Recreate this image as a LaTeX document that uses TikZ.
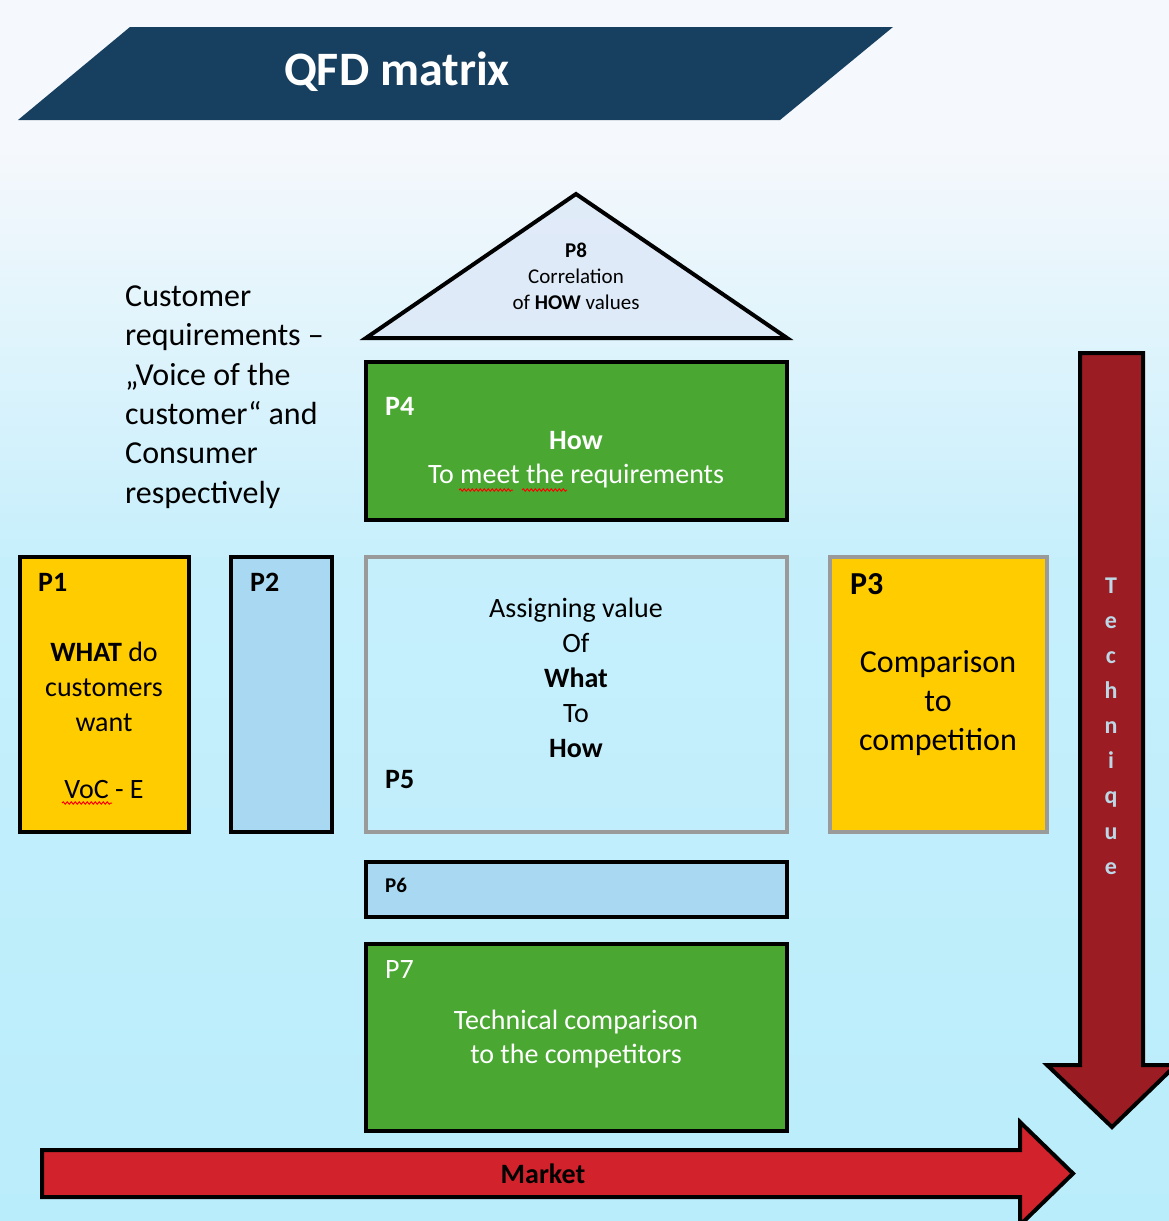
\documentclass[tikz,border=0pt]{standalone}
\usepackage{fontspec}
\setmainfont{Carlito}
\usetikzlibrary{decorations.pathmorphing}
\definecolor{navy}{HTML}{173F5F}
\definecolor{qgreen}{HTML}{4AA832}
\definecolor{qyellow}{HTML}{FFCC00}
\definecolor{qblue}{HTML}{A8D8F2}
\definecolor{qdarkred}{HTML}{9B1C23}
\definecolor{qred}{HTML}{D2232C}
\definecolor{qgray}{HTML}{9A9A9A}
\definecolor{qletter}{HTML}{BCD8E6}
\definecolor{bgtop}{HTML}{F5F8FC}
\definecolor{bgmid}{HTML}{C6EFFC}
\definecolor{bgbot}{HTML}{BAEDFB}
\definecolor{trifill}{HTML}{DDE8F7}
\newcommand\myfs[2]{\fontsize{#1}{#2}\selectfont}
\begin{document}
\begin{tikzpicture}[x=1pt,y=-1pt,
  box/.style={rectangle,draw=black,line width=4pt,inner sep=0pt},
  graybox/.style={box,draw=qgray},
  lbl/.style={anchor=west,inner sep=0pt,font=\myfs{28}{34}\bfseries},
  body/.style={align=center,inner sep=0pt,font=\myfs{28}{35}},
  squig/.style={draw=red,line width=1pt,decorate,decoration={snake,amplitude=1.2pt,segment length=4pt}},
  bigarrow/.style={draw=black,line width=4pt,line join=miter}]
\useasboundingbox (0,0) rectangle (1169,1221);
% background
\fill[bgtop] (0,0) rectangle (1169,151);
\shade[top color=bgtop,bottom color=bgmid] (0,150) rectangle (1169,561);
\shade[top color=bgmid,bottom color=bgbot] (0,560) rectangle (1169,1221);

% title banner
\fill[navy] (18,120) -- (130,27) -- (893,27) -- (780,120) -- cycle;
\node[text=white,font=\myfs{48}{56}\bfseries,inner sep=0pt] (title) at (397,72) {QFD matrix};

% P8 triangle
\draw[line width=4pt,line join=miter,fill=trifill,fill opacity=0.8] (366,338) -- (576,194) -- (787,338) -- cycle;
\node[align=center,inner sep=0pt,font=\myfs{21}{26}] (p8t) at (576,276)
  {\textbf{P8}\\Correlation\\of \textbf{HOW} values};

% left text
\node[anchor=west,align=left,inner sep=0pt,font=\myfs{32}{39.4}] (cust) at (125,397)
  {Customer\\requirements –\\„Voice of the\\customer“ and\\Consumer\\respectively};

% P4
\node[box,fill=qgreen,minimum width=421,minimum height=158] (p4) at (576.5,441) {};
\node[lbl,text=white] (p4l) at (385,406) {P4};
\node[body,text=white,font=\myfs{28}{34}] (p4t) at (576,460) {\textbf{How}\\To meet the requirements};
\draw[squig] (459,490) -- (513,490);
\draw[squig] (522,490) -- (567,490);

% P1
\node[box,fill=qyellow,minimum width=169,minimum height=275] (p1) at (104.5,694.5) {};
\node[lbl] (p1l) at (38,582) {P1};
\node[body] (p1t) at (104,687) {\textbf{WHAT} do\\customers\\want};
\node[body] (p1v) at (104,789) {VoC - E};
\draw[squig] (62,803) -- (112,803);

% P2
\node[box,fill=qblue,minimum width=101,minimum height=275] (p2) at (281.5,694.5) {};
\node[lbl] (p2l) at (250,582) {P2};

% P5
\node[graybox,minimum width=421,minimum height=275] (p5) at (576.5,694.5) {};
\node[body] (p5t) at (576,678) {Assigning value\\Of\\\textbf{What}\\To\\\textbf{How}};
\node[lbl] (p5l) at (385,780) {P5};

% P3
\node[graybox,fill=qyellow,minimum width=217,minimum height=275] (p3) at (938.5,694.5) {};
\node[lbl,font=\myfs{32}{38}\bfseries] (p3l) at (850,584) {P3};
\node[body,font=\myfs{32}{39}] (p3t) at (938,703) {Comparison\\to\\competition};

% P6
\node[box,fill=qblue,minimum width=421,minimum height=55] (p6) at (576.5,889.5) {};
\node[lbl,font=\myfs{21}{26}\bfseries] (p6l) at (385,885) {P6};

% P7
\node[box,fill=qgreen,minimum width=421,minimum height=187] (p7) at (576.5,1037.5) {};
\node[lbl,text=white,font=\myfs{28}{34}] (p7l) at (385,970) {P7};
\node[body,text=white,font=\myfs{28}{34}] (p7t) at (576,1039) {Technical comparison\\to the competitors};

% Technique arrow
\draw[bigarrow,fill=qdarkred] (1080,353) -- (1143,353) -- (1143,1065) -- (1176,1065)
  -- (1112,1127) -- (1047,1065) -- (1080,1065) -- cycle;
\node[align=center,inner sep=0pt,text=qletter,font=\myfs{24}{35.1}\bfseries] (tech) at (1111,726)
  {T\\e\\c\\h\\n\\i\\q\\u\\e};

% Market arrow
\draw[bigarrow,fill=qred] (42,1150) -- (1020,1150) -- (1020,1122) -- (1073,1173.5)
  -- (1020,1225) -- (1020,1197) -- (42,1197) -- cycle;
\node[inner sep=0pt,font=\myfs{28}{34}\bfseries] (market) at (543,1174) {Market};
\end{tikzpicture}
\end{document}
